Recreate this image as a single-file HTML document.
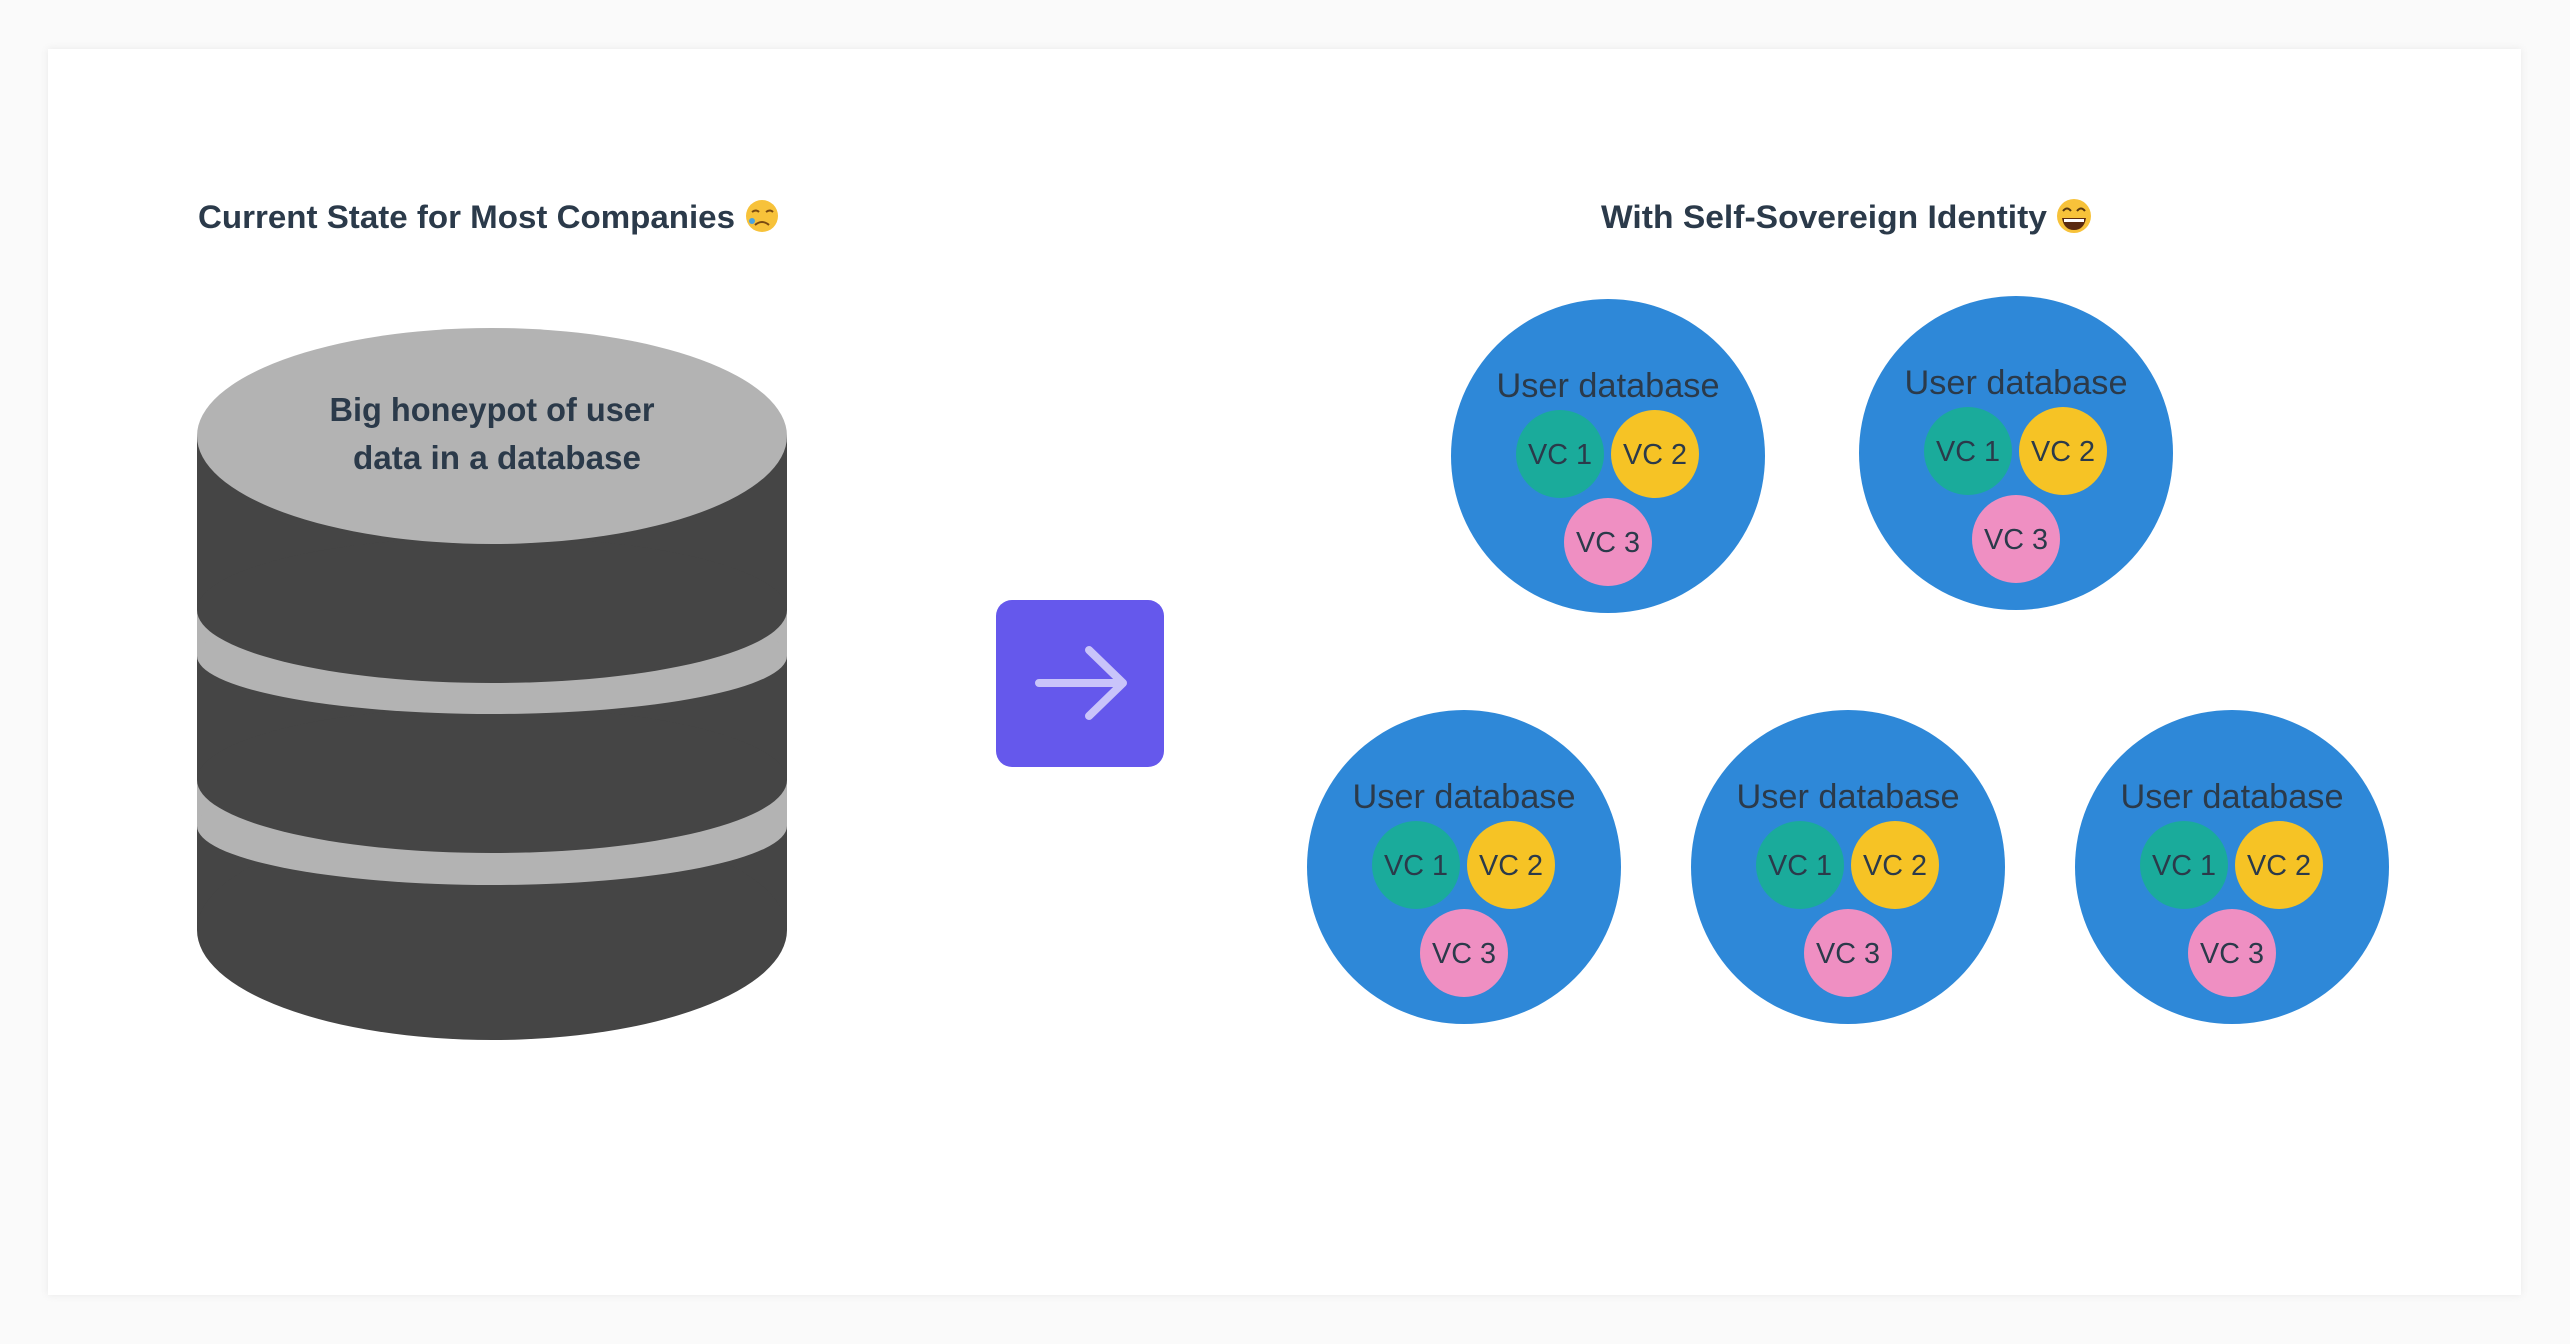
<!DOCTYPE html>
<html><head><meta charset="utf-8"><style>
html,body{margin:0;padding:0;background:#fafafa;}
svg{display:block;}
text{font-family:"Liberation Sans",sans-serif;fill:#2b3a4a;}
</style></head><body>
<svg width="2570" height="1344" viewBox="0 0 2570 1344" xmlns="http://www.w3.org/2000/svg">
<defs>
<filter id="sh" x="-5%" y="-5%" width="110%" height="110%"><feGaussianBlur stdDeviation="4"/></filter>
<g id="udb">
  <circle cx="0" cy="0" r="157" fill="#2e88d8"/>
  <text x="0" y="-59" font-size="34" text-anchor="middle" textLength="223" lengthAdjust="spacingAndGlyphs">User database</text>
  <circle cx="-48" cy="-2" r="44" fill="#1aab9b"/>
  <circle cx="47" cy="-2" r="44" fill="#f6c325"/>
  <circle cx="0" cy="86" r="44" fill="#ef8fc2"/>
  <text x="-48" y="8" font-size="29" text-anchor="middle" textLength="64" lengthAdjust="spacingAndGlyphs">VC 1</text>
  <text x="47" y="8" font-size="29" text-anchor="middle" textLength="64" lengthAdjust="spacingAndGlyphs">VC 2</text>
  <text x="0" y="96" font-size="29" text-anchor="middle" textLength="64" lengthAdjust="spacingAndGlyphs">VC 3</text>
</g>
</defs>
<rect x="0" y="0" width="2570" height="1344" fill="#fafafa"/>
<rect x="48" y="49" width="2473" height="1246" fill="#e8e8e8" filter="url(#sh)"/>
<rect x="48" y="49" width="2473" height="1246" fill="#ffffff"/>

<!-- left title -->
<text x="198" y="228" font-size="32" font-weight="bold" textLength="537" lengthAdjust="spacingAndGlyphs">Current State for Most Companies</text>
<circle cx="762" cy="216" r="16" fill="#f7c23a"/>
<path d="M752 212 q4 -3 7 0 M766 212 q4 -3 7 0" stroke="#7a4a10" stroke-width="2" fill="none"/>
<path d="M755 225 q7 -6 14 0" stroke="#7a4a10" stroke-width="2" fill="none"/>
<circle cx="752" cy="221" r="3" fill="#4aa3e0"/>

<!-- cylinder -->
<rect x="197" y="436" width="590" height="494" fill="#454545"/>
<ellipse cx="492" cy="930" rx="295" ry="110" fill="#454545"/>
<rect x="197" y="780" width="590" height="46" fill="#b3b3b3"/>
<ellipse cx="492" cy="826" rx="295" ry="59" fill="#b3b3b3"/>
<rect x="197" y="436" width="590" height="344" fill="#454545"/>
<ellipse cx="492" cy="780" rx="295" ry="73" fill="#454545"/>
<rect x="197" y="610" width="590" height="46" fill="#b3b3b3"/>
<ellipse cx="492" cy="656" rx="295" ry="58" fill="#b3b3b3"/>
<rect x="197" y="436" width="590" height="174" fill="#454545"/>
<ellipse cx="492" cy="610" rx="295" ry="73" fill="#454545"/>
<ellipse cx="492" cy="436" rx="295" ry="108" fill="#b3b3b3"/>
<text x="492" y="421" font-size="33" font-weight="bold" text-anchor="middle" textLength="325" lengthAdjust="spacingAndGlyphs">Big honeypot of user</text>
<text x="497" y="469" font-size="33" font-weight="bold" text-anchor="middle" textLength="288" lengthAdjust="spacingAndGlyphs">data in a database</text>

<!-- arrow box -->
<rect x="996" y="600" width="168" height="167" rx="16" fill="#6558ec"/>
<path d="M1039 683 H1123 M1089 650 L1123 683 L1089 716" stroke="#c9c4fa" stroke-width="8" stroke-linecap="round" stroke-linejoin="round" fill="none"/>

<!-- right title -->
<text x="1601" y="228" font-size="32" font-weight="bold" textLength="446" lengthAdjust="spacingAndGlyphs">With Self-Sovereign Identity</text>
<circle cx="2074" cy="216" r="17" fill="#f7c23a"/>
<path d="M2063 211 q4 -5 8 0 M2077 211 q4 -5 8 0" stroke="#5a3a10" stroke-width="2" fill="none"/>
<path d="M2062 218 h24 q-2 12 -12 12 q-10 0 -12 -12 z" fill="#5a2a10"/>
<path d="M2064 219 h20 v3 h-20 z" fill="#fff"/>

<use href="#udb" x="1608" y="456"/>
<use href="#udb" x="2016" y="453"/>
<use href="#udb" x="1464" y="867"/>
<use href="#udb" x="1848" y="867"/>
<use href="#udb" x="2232" y="867"/>
</svg>
</body></html>
